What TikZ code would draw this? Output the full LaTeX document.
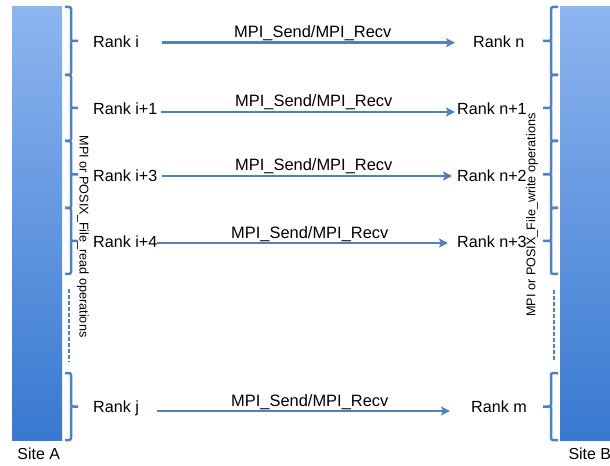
\documentclass[tikz,border=0pt]{standalone}
\usepackage{fontspec}
\setmainfont{Liberation Sans}
\usetikzlibrary{arrows.meta}
\definecolor{lineblue}{RGB}{79,129,189}
\definecolor{bartop}{RGB}{141,181,240}
\definecolor{barbot}{RGB}{56,120,207}
\begin{document}
\begin{tikzpicture}[x=1bp,y=-1bp,
  rank/.style={inner sep=0pt, anchor=base west, font=\fontsize{16.2}{19}\selectfont},
  msg/.style={inner sep=0pt, anchor=base west, font=\fontsize{16.5}{19}\selectfont},
  vtext/.style={inner sep=0pt, font=\fontsize{12.7}{15}\selectfont},
  site/.style={inner sep=0pt, anchor=base west, font=\fontsize{16}{19}\selectfont},
  arr/.style={draw=lineblue, line width=2.6bp, -{Stealth[length=9bp,width=9bp,inset=2bp]}},
  brk/.style={draw=lineblue, line width=2.5bp, rounded corners=2bp},
  dashline/.style={draw=lineblue, line width=2.5bp, dash pattern=on 4bp off 2bp},
  bar/.style={top color=bartop, bottom color=barbot, draw=none}]
\useasboundingbox (0,0) rectangle (610,466);

% site bars
\path[bar] (12,7) rectangle (62,440);
\path[bar] (560,7) rectangle (614,440);

% braces
\foreach \a/\b in {7/75,75/141,141/208,208/274,373/440}{
  \pgfmathsetmacro\m{(\a+\b)/2}
  \draw[brk] (65,\a) -- (71,\a) -- (71,\m) -- (78,\m);
  \draw[brk] (71,\m) -- (71,\b) -- (65,\b);
  \draw[brk] (558,\a) -- (551,\a) -- (551,\m) -- (543,\m);
  \draw[brk] (551,\m) -- (551,\b) -- (558,\b);
}
\draw[dashline] (69,289) -- (69,362);
\draw[dashline] (554,290) -- (554,362);

% rotated texts
\node[vtext, rotate=-90] (rd) at (83,236.5) {MPI or POSIX\_File\_read operations};
\node[vtext, rotate=90] (wr) at (532,215) {MPI or POSIX\_File\_write operations};

% ranks left
\node[rank] (ri1) at (93,47.3) {Rank i};
\node[rank] (ri2) at (93,114.2) {Rank i+1};
\node[rank] (ri3) at (93,181.7) {Rank i+3};
\node[rank] (ri4) at (93,247.5) {Rank i+4};
\node[rank] (ri5) at (93,412.7) {Rank j};
% ranks right
\node[rank] (rn1) at (473,47.3) {Rank n};
\node[rank] (rn2) at (457,114.2) {Rank n+1};
\node[rank] (rn3) at (457,181.7) {Rank n+2};
\node[rank] (rn4) at (457,247.5) {Rank n+3};
\node[rank] (rn5) at (471,412.7) {Rank m};

% arrow ends
\coordinate (s1) at (162,42.7); \coordinate (e1) at (455,42.7);
\coordinate (s2) at (161,112);  \coordinate (e2) at (455,112);
\coordinate (s3) at (162,176);  \coordinate (e3) at (452,176);
\coordinate (s4) at (157,243);  \coordinate (e4) at (448,243);
\coordinate (s5) at (157,411);  \coordinate (e5) at (450,411);
\foreach \i in {1,...,5}{\draw[arr] (s\i) -- (e\i);}

% message labels
\node[msg] (l1) at (234,37.5) {MPI\_Send/MPI\_Recv};
\node[msg] (l2) at (235,107) {MPI\_Send/MPI\_Recv};
\node[msg] (l3) at (235,171) {MPI\_Send/MPI\_Recv};
\node[msg] (l4) at (231,239) {MPI\_Send/MPI\_Recv};
\node[msg] (l5) at (231,406.7) {MPI\_Send/MPI\_Recv};

% site labels
\node[site] (sa) at (17.3,459.3) {Site A};
\node[site] (sb) at (568.3,459.3) {Site B};
\end{tikzpicture}
\end{document}
